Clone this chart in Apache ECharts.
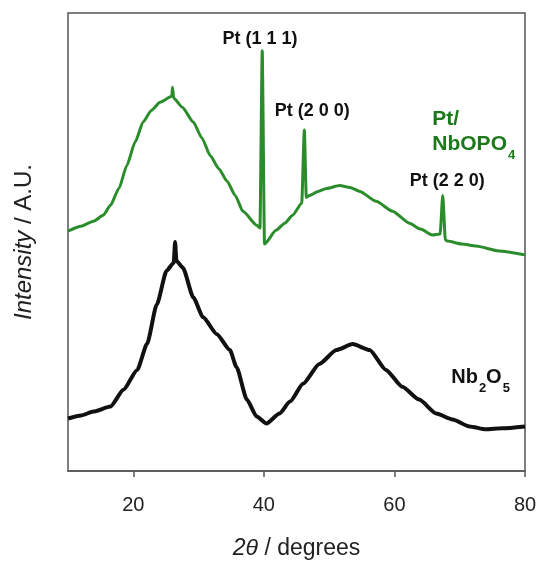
<!DOCTYPE html>
<html>
<head>
<meta charset="utf-8">
<script src="https://cdn.jsdelivr.net/npm/echarts@6/dist/echarts.min.js"></script>
<style>
  html, body { margin: 0; padding: 0; background: #fff; }
  #chart { width: 540px; height: 565px; }
</style>
</head>
<body>
<div id="chart"></div>
<script>
// 2theta positions and intensities (arbitrary units)
var ptX = [10, 12, 13.9, 15.4, 16.5, 17.8, 19, 20.3, 21.5, 22.8, 24.1, 25.9, 26.0, 26.2, 27.5, 29.2, 30.5, 31.8, 33.1, 34.4, 35.6, 36.8, 38.9, 39.4, 39.75, 40.1,
    41.9, 43.2, 44.4, 45.8, 46.2, 46.5, 47, 48.3, 49.6, 51.6, 53.2, 54.7, 57.2, 59.7, 62.3, 64.0, 65.8, 67.0, 67.4, 67.8, 68.1, 70.3, 72.5, 76, 80];
var ptY = [242, 247, 252, 258, 268, 285, 308, 332, 352, 364, 372, 378, 387, 376, 367, 352, 336, 318, 305, 292, 278, 262, 248, 245, 424, 229,
    243, 250, 258, 270, 344, 276, 278, 282, 285, 288, 286, 282, 272, 262, 250, 244, 238, 239, 278, 233, 232, 229, 227, 222, 218];

var nbX = [10, 12, 13.9, 16.5, 18.5, 20.6, 22.1, 23.6, 25.1, 26.2, 26.4, 26.6, 27.6, 29.2, 30.7, 32.8, 34.8, 35.8, 37.4, 38.9,
    40.4, 42.4, 44, 46, 48.5, 51.1, 53.6, 56.2, 58.7, 61.2, 63.8, 66.4, 68.9, 71.5, 74, 76.5, 80];
var nbY = [53, 56, 60, 65, 82, 102, 128, 168, 202, 210, 231, 212, 205, 175, 155, 138, 122, 105, 72, 55,
    48, 58, 70, 88, 108, 122, 128, 122, 102, 85, 72, 58, 52, 45, 42, 43, 45];

var xTicks = [20, 40, 60, 80];

// peak labels: [2theta, intensity, text]
var peakLabels = [
    [39.4, 436, 'Pt (1 1 1)'],
    [47.4, 363, 'Pt (2 0 0)'],
    [68.1, 293, 'Pt (2 2 0)']
];

function pairs(xs, ys) {
    return xs.map(function (x, i) { return [x, ys[i]]; });
}

var myChart = echarts.init(document.getElementById('chart'));

var option = {
    animation: false,
    grid: {
        left: 68, right: 15, top: 13, bottom: 91,
        show: true, borderColor: '#555', borderWidth: 1.5
    },
    xAxis: {
        type: 'value',
        min: 10, max: 80,
        splitNumber: 3,   // nice step of 20 -> 20, 40, 60, 80
        axisLine: {onZero: false, lineStyle: {color: '#555', width: 1.5}},
        axisTick: {show: true, inside: false, length: 6, lineStyle: {color: '#555', width: 1.5}},
        axisLabel: {
            showMinLabel: false,
            formatter: function (v) { return xTicks.indexOf(v) >= 0 ? String(v) : ''; },
            color: '#222', fontSize: 20, margin: 24, fontFamily: 'Liberation Sans'
        },
        splitLine: {show: false},
        name: '{i|2θ}{n| / degrees}',
        nameLocation: 'middle',
        nameGap: 66,
        nameTextStyle: {
            rich: {
                i: {fontSize: 23, fontStyle: 'italic', fontFamily: 'Liberation Sans', color: '#222'},
                n: {fontSize: 23, fontFamily: 'Liberation Sans', color: '#222'}
            }
        }
    },
    yAxis: {
        type: 'value',
        min: 0, max: 462,
        axisLine: {show: false},
        axisTick: {show: false},
        axisLabel: {show: false},
        splitLine: {show: false},
        name: '{i|Intensity}{n| / A.U.}',
        nameLocation: 'middle',
        nameGap: 32,
        nameTextStyle: {
            rich: {
                i: {fontSize: 24, fontStyle: 'italic', fontFamily: 'Liberation Sans', color: '#222'},
                n: {fontSize: 24, fontFamily: 'Liberation Sans', color: '#222'}
            }
        }
    },
    series: [{
        name: 'Pt/NbOPO4',
        type: 'line',
        data: pairs(ptX, ptY),
        showSymbol: false,
        smooth: 0.2,
        smoothMonotone: 'x',
        lineStyle: {color: '#2a8c2a', width: 3},
        silent: true
    }, {
        name: 'Nb2O5',
        type: 'line',
        data: pairs(nbX, nbY),
        showSymbol: false,
        smooth: 0.2,
        smoothMonotone: 'x',
        lineStyle: {color: '#111', width: 4},
        silent: true
    }, {
        type: 'scatter',
        symbolSize: 0,
        silent: true,
        itemStyle: {opacity: 1},
        data: peakLabels.map(function (p) { return {value: [p[0], p[1]], name: p[2]}; }),
        label: {
            show: true,
            position: [0, 0],
            align: 'center',
            verticalAlign: 'middle',
            formatter: function (p) { return p.name; },
            color: '#111',
            opacity: 1,
            fontSize: 18,
            fontWeight: 'bold',
            fontFamily: 'Liberation Sans'
        }
    }, {
        type: 'scatter',
        symbolSize: 0,
        silent: true,
        itemStyle: {opacity: 1},
        data: [{value: [65.8, 340], name: 'pt'}, {value: [68.7, 92], name: 'nb'}],
        label: {
            show: true,
            position: [0, 0],
            align: 'left',
            verticalAlign: 'middle',
            opacity: 1,
            formatter: function (p) {
                return p.name === 'pt' ? '{g|Pt/}\n{g|NbOPO}{gs|4}' : '{b|Nb}{bs|2}{b|O}{bs|5}';
            },
            rich: {
                g: {color: '#1a7a1a', fontSize: 21, fontWeight: 'bold', fontFamily: 'Liberation Sans', lineHeight: 25, verticalAlign: 'top'},
                gs: {color: '#1a7a1a', fontSize: 13, fontWeight: 'bold', fontFamily: 'Liberation Sans', lineHeight: 13, padding: [15, 0, 0, 1], verticalAlign: 'top'},
                b: {color: '#111', fontSize: 20, fontWeight: 'bold', fontFamily: 'Liberation Sans', lineHeight: 24, verticalAlign: 'top'},
                bs: {color: '#111', fontSize: 13, fontWeight: 'bold', fontFamily: 'Liberation Sans', lineHeight: 13, padding: [14, 0, 0, 1], verticalAlign: 'top'}
            }
        }
    }]
};
myChart.setOption(option);
</script>
</body>
</html>
